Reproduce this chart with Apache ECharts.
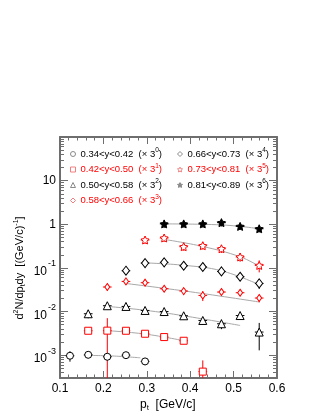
<!DOCTYPE html>
<html>
<head>
<meta charset="utf-8">
<script src="https://cdn.jsdelivr.net/npm/echarts@6/dist/echarts.min.js"></script>
<style>
  html, body { margin: 0; padding: 0; background: #fff; }
  #main { width: 323px; height: 418px; }
</style>
</head>
<body>
<div id="main"></div>
<script>
// rapidity bins and the 3^n scale factor of each bin
const rapidityBins = ['0.34<y<0.42', '0.42<y<0.50', '0.50<y<0.58', '0.58<y<0.66',
                      '0.66<y<0.73', '0.73<y<0.81', '0.81<y<0.89'];
const scaleExp = [0, 1, 2, 3, 4, 5, 6];

// pt half width of the horizontal error bar
const ptHalfWidth = 0.01;

// spectra (already scaled), pt, d2N/dptdy, error
const pt1 = [0.123, 0.165, 0.209, 0.252, 0.296];
const y1  = [9.7e-4, 1.02e-3, 9.2e-4, 1.0e-3, 7.2e-4];
const e1  = [2.6e-4, 1.7e-4, 1.6e-4, 1.7e-4, 1.3e-4];

const pt2 = [0.165, 0.209, 0.252, 0.296, 0.340, 0.385, 0.429];
const y2  = [3.63e-3, 3.65e-3, 3.63e-3, 3.10e-3, 2.60e-3, 2.14e-3, 4.2e-4];
const e2  = [5.5e-4, 3.4e-3, 5.5e-4, 4.5e-4, 4.0e-4, 3.5e-4, 3.4e-4];

const pt3 = [0.165, 0.209, 0.252, 0.296, 0.340, 0.385, 0.429, 0.472, 0.515, 0.559];
const y3  = [8.9e-3, 0.0136, 0.0131, 0.0106, 0.0100, 8.0e-3, 6.25e-3, 5.25e-3, 8.1e-3, 3.39e-3];
const e3  = [1.9e-3, 2.2e-3, 2.0e-3, 1.7e-3, 1.6e-3, 1.4e-3, 1.2e-3, 1.3e-3, 1.4e-3, 2.1e-3];

const pt4 = [0.209, 0.252, 0.296, 0.340, 0.385, 0.429, 0.472, 0.515, 0.559];
const y4  = [0.0365, 0.049, 0.0458, 0.0333, 0.0295, 0.0234, 0.028, 0.027, 0.0204];
const e4  = [6.5e-3, 8e-3, 7.5e-3, 5.5e-3, 5e-3, 6e-3, 5e-3, 4.5e-3, 4e-3];

const pt5 = [0.252, 0.296, 0.340, 0.385, 0.429, 0.472, 0.515, 0.559];
const y5  = [0.0863, 0.129, 0.134, 0.112, 0.105, 0.0832, 0.0628, 0.0441];
const e5  = [0.017, 0.021, 0.021, 0.018, 0.017, 0.016, 0.013, 0.011];

const pt6 = [0.296, 0.340, 0.385, 0.429, 0.472, 0.515, 0.559];
const y6  = [0.436, 0.485, 0.306, 0.323, 0.275, 0.178, 0.114];
const e6  = [0.08, 0.09, 0.06, 0.06, 0.055, 0.04, 0.035];

const pt7 = [0.340, 0.385, 0.429, 0.472, 0.515, 0.559];
const y7  = [1.02, 1.02, 1.02, 1.09, 0.895, 0.79];
const e7  = [0.2, 0.18, 0.18, 0.2, 0.15, 0.14];

// fit curves (grey)
const fitPt1 = [0.155, 0.22, 0.285];
const fitY1  = [9.9e-4, 9.6e-4, 8.7e-4];
const fitPt2 = [0.20, 0.296, 0.39];
const fitY2  = [3.7e-3, 3.05e-3, 2.1e-3];
const fitPt3 = [0.21, 0.296, 0.385, 0.515];
const fitY3  = [0.0131, 0.0107, 8.0e-3, 4.8e-3];
const fitPt4 = [0.25, 0.40, 0.56];
const fitY4  = [0.0442, 0.0284, 0.0165];
const fitPt5 = [0.29, 0.385, 0.472, 0.56];
const fitY5  = [0.131, 0.115, 0.086, 0.041];
const fitPt6 = [0.34, 0.429, 0.515, 0.56];
const fitY6  = [0.45, 0.31, 0.18, 0.108];
const fitPt7 = [0.34, 0.47, 0.56];
const fitY7  = [1.02, 0.97, 0.79];

// axis ticks
const xTicks = [0.1, 0.2, 0.3, 0.4, 0.5, 0.6];
const yDecades = [1e-3, 1e-2, 1e-1, 1, 10];

const yMinorTicks = [];
[1e-4, 1e-3, 1e-2, 1e-1, 1, 10].forEach(d => {
  for (let k = 2; k <= 9; k++) {
    const v = d * k;
    if (v > 3e-4 && v < 100) yMinorTicks.push(v);
  }
});

const FONT = 'Liberation Sans, Arial, Helvetica, sans-serif';
const FRAME = '#6e6e6e';
const RED = '#ff0000';
const BLACK = '#000000';

const starPath = 'path://M0,-10L2.9,-4L9.5,-3.1L4.7,1.6L5.9,8.1L0,5.2L-5.9,8.1L-4.7,1.6L-9.5,-3.1L-2.9,-4Z';

const groups = [
  { pt: pt1, y: y1, e: e1, fx: fitPt1, fy: fitY1, color: BLACK, symbol: 'circle',   size: 7,      fill: '#fff' },
  { pt: pt2, y: y2, e: e2, fx: fitPt2, fy: fitY2, color: RED,   symbol: 'rect',     size: 7,      fill: '#fff' },
  { pt: pt3, y: y3, e: e3, fx: fitPt3, fy: fitY3, color: BLACK, symbol: 'triangle', size: 8,      fill: '#fff' },
  { pt: pt4, y: y4, e: e4, fx: fitPt4, fy: fitY4, color: RED,   symbol: 'diamond',  size: [5, 7], fill: '#fff' },
  { pt: pt5, y: y5, e: e5, fx: fitPt5, fy: fitY5, color: BLACK, symbol: 'diamond',  size: [7, 9], fill: '#fff' },
  { pt: pt6, y: y6, e: e6, fx: fitPt6, fy: fitY6, color: RED,   symbol: starPath,   size: 8,      fill: '#fff' },
  { pt: pt7, y: y7, e: e7, fx: fitPt7, fy: fitY7, color: BLACK, symbol: starPath,   size: 8,      fill: BLACK }
];

function errorBars(color) {
  return function (params, api) {
    const x = api.value(0), y = api.value(1), e = api.value(2);
    const cs = params.coordSys;
    const c = api.coord([x, y]);
    const l = api.coord([x - ptHalfWidth, y]);
    const r = api.coord([x + ptHalfWidth, y]);
    const hi = api.coord([x, y + e]);
    let loY = y - e > 0 ? api.coord([x, y - e])[1] : cs.y + cs.height;
    loY = Math.min(loY, cs.y + cs.height);
    const st = { stroke: color, lineWidth: 1 };
    return {
      type: 'group',
      children: [
        { type: 'line', shape: { x1: l[0], y1: c[1], x2: r[0], y2: c[1] }, style: st },
        { type: 'line', shape: { x1: c[0], y1: Math.max(hi[1], cs.y), x2: c[0], y2: loY }, style: st }
      ]
    };
  };
}

const series = [];
groups.forEach((g, i) => {
  series.push({
    name: rapidityBins[i],
    type: 'line',
    smooth: 0.4,
    showSymbol: false,
    silent: true,
    z: 1,
    lineStyle: { color: '#a8a8a8', width: 1 },
    itemStyle: { color: '#a8a8a8' },
    data: g.fx.map((x, k) => [x, g.fy[k]])
  });
});
groups.forEach((g, i) => {
  series.push({
    name: rapidityBins[i],
    type: 'custom',
    z: 2,
    renderItem: errorBars(g.color),
    data: g.pt.map((x, k) => [x, g.y[k], g.e[k]])
  });
  series.push({
    name: rapidityBins[i],
    type: 'scatter',
    z: 3,
    symbol: g.symbol,
    symbolSize: g.size,
    itemStyle: { color: g.fill, borderColor: g.color, borderWidth: 1, opacity: 1 },
    data: g.pt.map((x, k) => [x, g.y[k]])
  });
});

function legendData(idx) {
  return idx.map(i => ({
    name: rapidityBins[i],
    icon: groups[i].symbol,
    itemStyle: { color: i === 6 ? '#8a8a8a' : '#fff', borderColor: i % 2 ? '#f08080' : '#8a8a8a', borderWidth: 1 },
    textStyle: { color: groups[i].color }
  }));
}

const legendText = {
  fontSize: 9.5,
  fontFamily: FONT,
  lineHeight: 13,
  rich: {
    s: { fontSize: 6.5, fontFamily: FONT, lineHeight: 13, padding: [0, 0, 7, 0] }
  }
};
function legendFormatter(name) {
  const i = rapidityBins.indexOf(name);
  return name + '  (\u00d7 3{s|' + scaleExp[i] + '})';
}

const yTitle = 'd{sup|2}N/dp{sub|t}dy  [(GeV/c){sup|-1}]';

const option = {
  backgroundColor: '#fff',
  animation: false,
  grid: { left: 60, right: 46, top: 137, bottom: 40 },
  legend: [
    {
      orient: 'vertical', left: 65, top: 142,
      itemWidth: 5, itemHeight: 5, itemGap: 1.5,
      selectedMode: false,
      textStyle: legendText,
      formatter: legendFormatter,
      data: legendData([0, 1, 2, 3])
    },
    {
      orient: 'vertical', left: 172, top: 142,
      itemWidth: 5, itemHeight: 5, itemGap: 1.5,
      selectedMode: false,
      textStyle: legendText,
      formatter: legendFormatter,
      data: legendData([4, 5, 6])
    }
  ],
  xAxis: [
    {
      type: 'value', min: 0.1, max: 0.6, interval: 0.1, position: 'bottom',
      splitLine: { show: false },
      axisLine: { show: true, onZero: false, lineStyle: { color: FRAME, width: 2 } },
      axisTick: { inside: true, length: 7, lineStyle: { color: FRAME, width: 1 } },
      minorTick: { show: true, splitNumber: 5, length: 3.5, lineStyle: { color: FRAME, width: 1 } },
      axisLabel: { color: '#000', fontSize: 12, fontFamily: FONT, margin: 5,
                   formatter: v => v.toFixed(1), customValues: xTicks }
    },
    {
      type: 'value', min: 0.1, max: 0.6, interval: 0.1, position: 'top',
      splitLine: { show: false },
      axisLine: { show: true, onZero: false, lineStyle: { color: FRAME, width: 2 } },
      axisTick: { inside: true, length: 7, lineStyle: { color: FRAME, width: 1 } },
      minorTick: { show: true, splitNumber: 5, length: 3.5, lineStyle: { color: FRAME, width: 1 } },
      axisLabel: { show: false }
    }
  ],
  yAxis: [
    {
      type: 'log', logBase: 10, min: 3e-4, max: 100, position: 'left',
      splitLine: { show: false },
      axisLine: { show: true, onZero: false, lineStyle: { color: FRAME, width: 2 } },
      axisTick: { inside: true, length: 8, customValues: yDecades, lineStyle: { color: FRAME, width: 1 } },
      axisLabel: {
        color: '#000', fontSize: 12, fontFamily: FONT, margin: 4,
        customValues: yDecades,
        formatter: v => {
          const e = Math.round(Math.log10(v));
          if (e === 0) return '1';
          if (e === 1) return '10';
          return '{b|10}{e|' + e + '}';
        },
        rich: {
          b: { fontSize: 12, fontFamily: FONT, lineHeight: 20, verticalAlign: 'bottom', padding: [6, 0, 0, 0] },
          e: { fontSize: 9, fontFamily: FONT, lineHeight: 20, padding: [0, 0, 8, 1] }
        }
      }
    },
    {
      type: 'log', logBase: 10, min: 3e-4, max: 100, position: 'left',
      axisLine: { show: false }, splitLine: { show: false }, axisLabel: { show: false },
      axisTick: { inside: true, length: 4, customValues: yMinorTicks, lineStyle: { color: FRAME, width: 1 } }
    },
    {
      type: 'log', logBase: 10, min: 3e-4, max: 100, position: 'right',
      splitLine: { show: false }, axisLabel: { show: false },
      axisLine: { show: true, onZero: false, lineStyle: { color: FRAME, width: 2 } },
      axisTick: { inside: true, length: 8, customValues: yDecades, lineStyle: { color: FRAME, width: 1 } }
    },
    {
      type: 'log', logBase: 10, min: 3e-4, max: 100, position: 'right',
      axisLine: { show: false }, splitLine: { show: false }, axisLabel: { show: false },
      axisTick: { inside: true, length: 4, customValues: yMinorTicks, lineStyle: { color: FRAME, width: 1 } }
    }
  ],
  graphic: [
    {
      type: 'text', left: 140, top: 399,
      style: {
        text: '{a|p}{sub|t}{a|  [GeV/c]}',
        fill: '#000', font: '12px ' + FONT,
        rich: {
          a: { fontSize: 12, fontFamily: FONT },
          sub: { fontSize: 8, fontFamily: FONT, padding: [6, 0, 0, 0] }
        }
      }
    },
    {
      type: 'text', x: 20, y: 268, rotation: Math.PI / 2,
      style: {
        text: yTitle,
        fill: '#000', align: 'center', verticalAlign: 'middle',
        font: '11px ' + FONT,
        rich: {
          sup: { fontSize: 7, fontFamily: FONT, padding: [0, 0, 7, 0] },
          sub: { fontSize: 7, fontFamily: FONT, padding: [6, 0, 0, 0] }
        }
      }
    }
  ],
  series: series
};

const chart = echarts.init(document.getElementById('main'));
chart.setOption(option);
</script>
</body>
</html>
